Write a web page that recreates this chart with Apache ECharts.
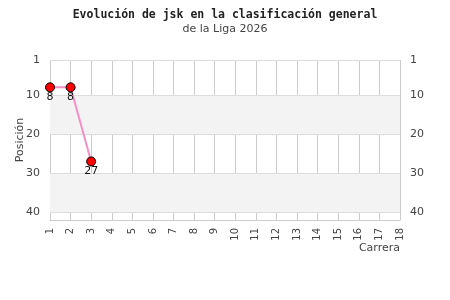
<!DOCTYPE html>
<html><head><meta charset="utf-8">
<script src="https://cdn.jsdelivr.net/npm/echarts@6/dist/echarts.min.js"></script>
<style>html,body{margin:0;padding:0;background:#fff}#c{width:450px;height:300px}</style>
</head><body><div id="c"></div>
<script>
const races = [1,2,3];
const positions = [8,8,27];
const yTicks = [1,10,20,30,40];
const xTicks = [1,2,3,4,5,6,7,8,9,10,11,12,13,14,15,16,17,18];

const chart = echarts.init(document.getElementById('c'), null, {renderer:'canvas'});
const yAxisBase = {
  type:'value', inverse:true, min:1, max:42,
  axisLine:{show:false}, axisTick:{show:false, customValues:yTicks},
  axisLabel:{customValues:yTicks, color:'#444', fontSize:11, fontFamily:'DejaVu Sans', margin:10},
  splitLine:{show:false}, splitArea:{show:false}
};
chart.setOption({
  animation:false,
  title:{
    text:'Evolución de jsk en la clasificación general',
    subtext:'de la Liga 2026',
    left:'center', top:4, itemGap:3,
    textStyle:{fontFamily:'DejaVu Sans Mono', fontWeight:'bold', fontSize:11.5, color:'#222'},
    subtextStyle:{fontFamily:'DejaVu Sans', fontSize:11, color:'#444'}
  },
  grid:{left:50, right:50, top:60, bottom:80, outerBoundsMode:'none', containLabel:false},
  xAxis:{
    type:'value', min:1, max:18, interval:1,
    name:'Carrera', nameLocation:'end', nameGap:0, nameMoveOverlap:false,
    nameTextStyle:{align:'right', verticalAlign:'top', padding:[23,0,0,0], color:'#444', fontSize:11, fontFamily:'DejaVu Sans'},
    axisLine:{show:true, lineStyle:{color:'#ccc'}}, axisTick:{show:false},
    axisLabel:{rotate:90, color:'#444', fontSize:10, fontFamily:'DejaVu Sans', margin:8, customValues:xTicks},
    splitLine:{show:true, lineStyle:{color:'#ccc'}}
  },
  yAxis:[
    Object.assign({}, yAxisBase, {position:'left', name:'Posición', nameLocation:'middle', nameGap:24, nameMoveOverlap:false,
      nameTextStyle:{color:'#444', fontSize:11, fontFamily:'DejaVu Sans'}}),
    Object.assign({}, yAxisBase, {position:'right'})
  ],
  series:[
    {
      type:'line', data:[], silent:true,
      markArea:{silent:true, itemStyle:{color:'#f3f3f3'}, data:[[{yAxis:10},{yAxis:20}],[{yAxis:30},{yAxis:40}]]},
      markLine:{silent:true, symbol:'none', label:{show:false}, lineStyle:{color:'#ddd', type:'solid', width:1},
        data:yTicks.map(v=>({yAxis:v}))}
    },
    {
      type:'line', data:races.map((r,i)=>[r,positions[i]]),
      lineStyle:{color:'#f490c4', width:2}, itemStyle:{color:'#ff0000', borderColor:'#000', borderWidth:1},
      symbol:'circle', symbolSize:9,
      label:{show:true, position:'bottom', distance:-1, color:'#111', fontSize:11, fontFamily:'DejaVu Sans'},
      z:5
    }
  ]
});
</script></body></html>
